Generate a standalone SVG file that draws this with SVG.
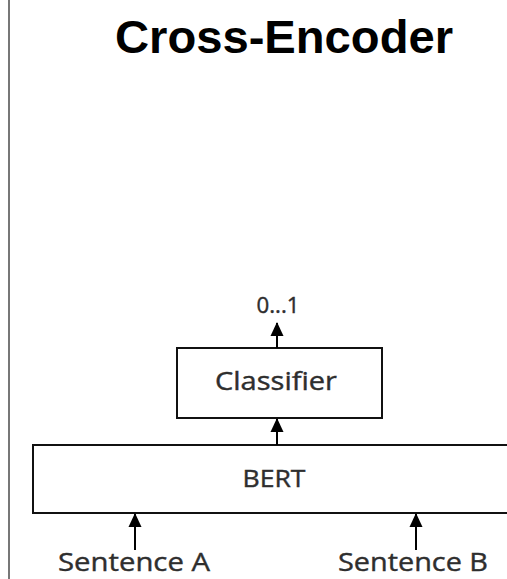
<svg xmlns="http://www.w3.org/2000/svg" width="507" height="579" viewBox="0 0 507 579">
  <defs>
    <marker id="arrow" viewBox="0 0 14 14" refX="13" refY="7" markerWidth="14" markerHeight="14" markerUnits="userSpaceOnUse" orient="auto">
      <path d="M0,0.5 L14,7 L0,13.5 z" fill="#000"/>
    </marker>
    <style>
      .box { fill: #fff; stroke: #111; stroke-width: 2; }
      .label { font-family: "Open Sans", "Noto Sans", sans-serif; fill: #2e2e2e; text-anchor: middle; stroke: #2e2e2e; stroke-width: 0.4; }
      .edge { stroke: #000; stroke-width: 2; fill: none; marker-end: url(#arrow); }
      .title { font-family: "Liberation Sans", Arial, sans-serif; font-weight: bold; font-size: 46px; fill: #000; text-anchor: middle; }
    </style>
  </defs>

  <rect width="507" height="579" fill="#fff"/>
  <!-- left rule -->
  <line x1="9" y1="0" x2="9" y2="579" stroke="#777" stroke-width="2"/>

  <text class="title" x="284" y="53" textLength="338" lengthAdjust="spacingAndGlyphs">Cross-Encoder</text>

  <g id="classifier">
    <rect class="box" x="177" y="348" width="205" height="70"/>
    <text class="label" x="276" y="390" font-size="25" textLength="122" lengthAdjust="spacingAndGlyphs">Classifier</text>
  </g>

  <g id="bert">
    <rect class="box" x="33" y="445" width="490" height="68"/>
    <text class="label" x="274" y="487" font-size="24" textLength="63" lengthAdjust="spacingAndGlyphs">BERT</text>
  </g>

  <g id="output">
    <text class="label" x="278" y="313" font-size="21" textLength="43" lengthAdjust="spacingAndGlyphs">0...1</text>
  </g>

  <g id="sentence-a">
    <text class="label" x="134" y="571" font-size="26" textLength="152" lengthAdjust="spacingAndGlyphs">Sentence A</text>
  </g>

  <g id="sentence-b">
    <text class="label" x="413" y="571" font-size="26" textLength="150" lengthAdjust="spacingAndGlyphs">Sentence B</text>
  </g>

  <g id="connectors">
    <line class="edge" x1="277" y1="348" x2="277" y2="323"/>
    <line class="edge" x1="277" y1="445" x2="277" y2="419"/>
    <line class="edge" x1="135" y1="550" x2="135" y2="514"/>
    <line class="edge" x1="416" y1="550" x2="416" y2="514"/>
  </g>
</svg>
